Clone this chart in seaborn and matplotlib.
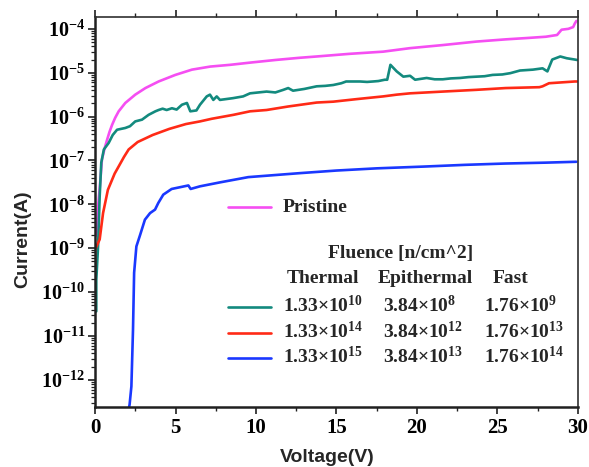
import numpy as np
import pandas as pd
import matplotlib
matplotlib.use("Agg")
import matplotlib.pyplot as plt
from matplotlib.lines import Line2D
from matplotlib.ticker import LogLocator, FixedLocator, MultipleLocator, NullFormatter
import seaborn as sns

# ---------------- data ----------------
pristine_V = [0.02, 0.12, 0.19, 0.3, 0.43, 0.6, 0.75, 0.9, 1.06, 1.25, 1.47, 1.88, 2.5, 3.13,
              3.95, 4.99, 6.02, 7.16, 8.4, 9.63, 11.2, 12.7, 13.77, 15.8, 17.9, 19.57, 21.6,
              23.7, 25.5, 26.8, 28.0, 28.7, 28.98, 29.4, 29.7, 29.8, 29.9]
pristine_logI = [-8.73, -8.6, -8.05, -7.6, -6.98, -6.72, -6.53, -6.35, -6.19, -6.03, -5.88,
                 -5.69, -5.5, -5.35, -5.2, -5.05, -4.93, -4.86, -4.82, -4.77, -4.71, -4.66,
                 -4.63, -4.57, -4.52, -4.44, -4.37, -4.29, -4.24, -4.21, -4.18, -4.14, -4.02,
                 -4.0, -3.96, -3.88, -3.82]

teal_V = [0.08, 0.08, 0.19, 0.29, 0.39, 0.55, 0.85, 1.1, 1.37, 1.88, 2.17, 2.5, 2.92, 3.33,
          3.75, 3.95, 4.2, 4.45, 4.78, 5.07, 5.4, 5.71, 5.92, 6.3, 6.52, 6.94, 7.14, 7.35, 7.56,
          7.76, 8.57, 9.2, 9.63, 10.66, 11.2, 11.7, 12.0, 12.3, 13.0, 13.77, 14.3, 14.8, 15.3,
          15.6, 16.46, 16.9, 17.27, 17.6, 18.0, 18.15, 18.35, 18.74, 19.15, 19.57, 19.88, 20.6,
          21.1, 21.6, 22.1, 22.67, 23.2, 23.7, 24.2, 24.7, 25.3, 25.8, 26.4, 27.2, 27.8, 28.1,
          28.4, 28.9, 29.3, 29.8, 29.95]
teal_logI = [-10.44, -9.72, -8.96, -7.82, -7.05, -6.75, -6.6, -6.42, -6.3, -6.26, -6.22, -6.11,
             -6.07, -5.96, -5.88, -5.85, -5.82, -5.85, -5.81, -5.84, -5.73, -5.69, -5.88, -5.86,
             -5.73, -5.54, -5.5, -5.62, -5.54, -5.62, -5.58, -5.54, -5.47, -5.43, -5.45, -5.39,
             -5.35, -5.41, -5.37, -5.31, -5.3, -5.28, -5.24, -5.2, -5.2, -5.21, -5.2, -5.19,
             -5.16, -5.16, -4.82, -4.97, -5.09, -5.07, -5.16, -5.12, -5.15, -5.15, -5.13, -5.12,
             -5.1, -5.09, -5.08, -5.05, -5.04, -5.01, -4.95, -4.93, -4.9, -4.97, -4.7, -4.63,
             -4.67, -4.7, -4.71]

red_V = [0.0, 0.0, 0.29, 0.5, 0.8, 1.22, 1.45, 1.8, 2.09, 2.65, 3.58, 4.62, 5.65, 6.52, 7.25,
         8.6, 9.63, 10.66, 12.0, 13.77, 14.8, 16.3, 17.9, 18.74, 19.57, 21.6, 23.7, 25.5, 27.6,
         27.8, 28.2, 29.0, 29.8, 29.95]
red_logI = [-9.45, -9.03, -8.8, -8.2, -7.67, -7.3, -7.15, -6.92, -6.75, -6.58, -6.42, -6.28,
            -6.17, -6.11, -6.05, -5.96, -5.88, -5.85, -5.77, -5.68, -5.66, -5.6, -5.54, -5.5,
            -5.47, -5.43, -5.39, -5.35, -5.33, -5.31, -5.24, -5.22, -5.2, -5.2]

blue_V = [2.12, 2.15, 2.26, 2.36, 2.43, 2.57, 2.8, 3.1, 3.42, 3.73, 3.93, 4.24, 4.76, 5.28, 5.8,
          5.94, 6.52, 7.76, 9.52, 12.7, 15.0, 17.5, 20.4, 23.0, 25.5, 28.0, 29.9]
blue_logI = [-12.62, -12.56, -12.15, -10.86, -9.56, -8.96, -8.7, -8.35, -8.2, -8.12, -7.97,
             -7.78, -7.65, -7.61, -7.57, -7.65, -7.59, -7.5, -7.38, -7.29, -7.23, -7.18, -7.14,
             -7.1, -7.07, -7.05, -7.03]

series_names = ["Pristine", "1.33e10", "1.33e14", "1.33e15"]
series_colors = ["#f54ef2", "#138a7e", "#ff2a16", "#1a38ff"]

fluence_title = "Fluence [n/cm^2]"
fluence_header = ["Thermal", "Epithermal", "Fast"]
fluence_rows = [
    ["1.33×10$^{10}$", "3.84×10$^{8}$", "1.76×10$^{9}$"],
    ["1.33×10$^{14}$", "3.84×10$^{12}$", "1.76×10$^{13}$"],
    ["1.33×10$^{15}$", "3.84×10$^{13}$", "1.76×10$^{14}$"],
]

x_ticks = [0, 5, 10, 15, 20, 25, 30]
y_exponents = [-12, -11, -10, -9, -8, -7, -6, -5, -4]

# ---------------- build table ----------------
frames = []
for name, V, L in zip(series_names,
                      [pristine_V, teal_V, red_V, blue_V],
                      [pristine_logI, teal_logI, red_logI, blue_logI]):
    frames.append(pd.DataFrame({"V": V, "I": 10.0 ** np.array(L), "s": name}))
df = pd.concat(frames, ignore_index=True)

# ---------------- style ----------------
sns.set_theme(style="ticks")
plt.rcParams["font.family"] = ["Liberation Serif", "DejaVu Serif"]
plt.rcParams["font.weight"] = "bold"
plt.rcParams["mathtext.fontset"] = "custom"
plt.rcParams["mathtext.rm"] = "Liberation Serif:bold"
plt.rcParams["mathtext.it"] = "Liberation Serif:bold:italic"
plt.rcParams["mathtext.bf"] = "Liberation Serif:bold"

fig = plt.figure(figsize=(5.89, 4.67), dpi=100)
ax = fig.add_axes([0.1613, 0.1285, 0.8200, 0.8351])

sns.lineplot(data=df, x="V", y="I", hue="s", palette=dict(zip(series_names, series_colors)),
             hue_order=series_names, sort=False, estimator=None, linewidth=1.9,
             legend=False, ax=ax)

ax.set_yscale("log")
ax.set_xlim(0, 30)
ax.set_ylim(10 ** -12.62, 10 ** -3.73)

ax.xaxis.set_major_locator(FixedLocator(x_ticks))
ax.xaxis.set_minor_locator(MultipleLocator(2.5))
ax.set_xticklabels([str(t) for t in x_ticks])
ax.yaxis.set_major_locator(FixedLocator([10.0 ** e for e in y_exponents]))
ax.set_yticklabels([f"$10^{{{e}}}$" for e in y_exponents])
ax.yaxis.set_minor_locator(LogLocator(base=10, subs=np.arange(2, 10), numticks=30))
ax.yaxis.set_minor_formatter(NullFormatter())

for side in ["left", "bottom"]:
    ax.spines[side].set_linewidth(1.8)
    ax.spines[side].set_color("#202020")
for side in ["top", "right"]:
    ax.spines[side].set_linewidth(1.2)
    ax.spines[side].set_color("#303030")

ax.tick_params(axis="x", which="both", direction="out", top=True, bottom=True,
               labelsize=15, pad=3, colors="#202020")
ax.tick_params(axis="x", which="major", length=5, width=1.2)
ax.tick_params(axis="x", which="minor", length=3, width=1.0)
ax.tick_params(axis="y", which="both", direction="out", left=True, right=False,
               labelsize=14.5, pad=2, colors="#202020")
ax.tick_params(axis="y", which="major", length=5, width=1.2)
ax.tick_params(axis="y", which="minor", length=3, width=0.9)
for lab in ax.get_xticklabels() + ax.get_yticklabels():
    lab.set_fontweight("bold")
    lab.set_color("black")

ax.set_xlabel("Voltage(V)", family="Liberation Sans", fontweight="bold", fontsize=14)
ax.set_ylabel("Current(A)", family="Liberation Sans", fontweight="bold", fontsize=14)
ax.xaxis.set_label_coords(0.48, -0.108)
ax.yaxis.set_label_coords(-0.132, 0.43)

# ---------------- legend block ----------------
tr = ax.transAxes
handle_x = (0.276, 0.364)
ax.add_line(Line2D(handle_x, [0.513, 0.513], transform=tr, color=series_colors[0], lw=1.9))
ax.text(0.389, 0.50, "Pristine", transform=tr, va="baseline", ha="left",
        fontsize=14, fontweight="bold")

ax.text(0.482, 0.382, fluence_title, transform=tr, va="baseline", ha="left",
        fontsize=14, fontweight="bold")
for txt, xl in zip(fluence_header, [0.397, 0.586, 0.824]):
    ax.text(xl, 0.318, txt, transform=tr, va="baseline", ha="left",
            fontsize=14, fontweight="bold")

row_base = [0.244, 0.177, 0.113]
col_x = [0.389, 0.596, 0.805]
for k, (row, yb) in enumerate(zip(fluence_rows, row_base)):
    ax.add_line(Line2D(handle_x, [yb + 0.012, yb + 0.012], transform=tr,
                       color=series_colors[k + 1], lw=1.9))
    for txt, xx in zip(row, col_x):
        ax.text(xx, yb, txt, transform=tr, va="baseline", ha="left",
                fontsize=14, fontweight="bold")

fig.savefig("out.png", dpi=100)
